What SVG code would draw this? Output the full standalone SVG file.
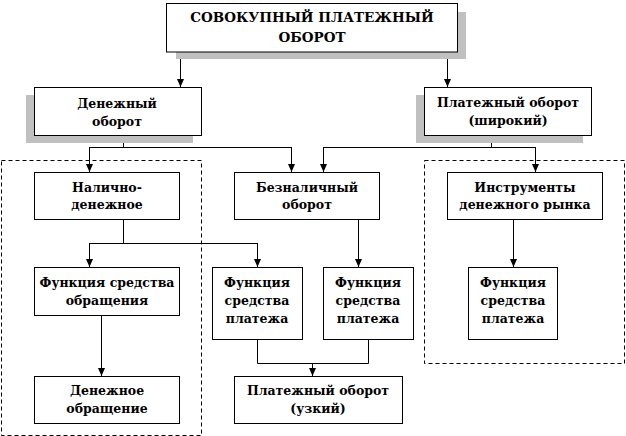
<svg xmlns="http://www.w3.org/2000/svg" width="626" height="436" viewBox="0 0 626 436">
<defs>
<path id="ah" d="M-3.5,-8 L3.5,-8 L0,0 Z" fill="#000"/>
</defs>
<style>
.box{fill:#fff;stroke:#000;stroke-width:1}
.sh{fill:#c0c0c0;stroke:none}
.dash{fill:none;stroke:#000;stroke-width:1;stroke-dasharray:4,3}
.ln{fill:none;stroke:#000;stroke-width:1}
.t{font-family:"DejaVu Serif",serif;font-weight:bold;font-size:12.5px;text-anchor:middle;fill:#000}
.h{font-size:13.5px}
</style>
<rect width="626" height="436" fill="#fff"/>
<g id="groups">
<rect class="dash" x="1.5" y="160.5" width="200" height="275"/>
<rect class="dash" x="424.5" y="160.5" width="200" height="203"/>
</g>
<g id="connectors">
<path class="ln" d="M180.5,52 V87 M447.5,52 V87"/>
<path class="ln" d="M123.5,135 V147.5 M89.5,147.5 H291.5 M89.5,147 V172 M291.5,147 V172"/>
<path class="ln" d="M491.5,135 V147.5 M323.5,147.5 H535.5 M323.5,147 V172 M535.5,147 V172"/>
<path class="ln" d="M123.5,219 V243.5 M89.5,243.5 H257.5 M89.5,243 V267 M257.5,243 V267"/>
<path class="ln" d="M358.5,219 V267 M513.5,219 V267 M101.5,315 V376"/>
<path class="ln" d="M257.5,339 V363.5 H368.5 V339 M312.5,363 V376"/>
<use href="#ah" x="180.5" y="87"/>
<use href="#ah" x="447.5" y="87"/>
<use href="#ah" x="89.5" y="172"/>
<use href="#ah" x="291.5" y="172"/>
<use href="#ah" x="323.5" y="172"/>
<use href="#ah" x="535.5" y="172"/>
<use href="#ah" x="89.5" y="267"/>
<use href="#ah" x="257.5" y="267"/>
<use href="#ah" x="358.5" y="267"/>
<use href="#ah" x="513.5" y="267"/>
<use href="#ah" x="101.5" y="376"/>
<use href="#ah" x="312.5" y="376"/>
</g>
<g id="n-total">
<rect class="sh" x="176" y="12" width="290" height="47"/>
<rect class="box" x="166.5" y="3.5" width="291" height="48.5"/>
<text class="t h" x="312" y="22">СОВОКУПНЫЙ ПЛАТЕЖНЫЙ</text>
<text class="t h" x="312" y="42">ОБОРОТ</text>
</g>
<g id="n-money">
<rect class="sh" x="26" y="95" width="167" height="48"/>
<rect class="box" x="34.5" y="87.5" width="167" height="48"/>
<text class="t" x="117" y="108">Денежный</text>
<text class="t" x="117" y="126">оборот</text>
</g>
<g id="n-paywide">
<rect class="sh" x="416" y="95" width="167" height="48"/>
<rect class="box" x="424.5" y="87.5" width="167" height="48"/>
<text class="t" x="508" y="107">Платежный оборот</text>
<text class="t" x="508" y="125">(широкий)</text>
</g>
<g id="n-cash">
<rect class="box" x="34.5" y="172.5" width="145" height="47"/>
<text class="t" x="107" y="192">Налично-</text>
<text class="t" x="107" y="209">денежное</text>
</g>
<g id="n-noncash">
<rect class="box" x="234.5" y="172.5" width="145" height="47"/>
<text class="t" x="307" y="192">Безналичный</text>
<text class="t" x="307" y="209">оборот</text>
</g>
<g id="n-instr">
<rect class="box" x="447.5" y="172.5" width="155" height="47"/>
<text class="t" x="525" y="192">Инструменты</text>
<text class="t" x="525" y="209">денежного рынка</text>
</g>
<g id="n-circ">
<rect class="box" x="34.5" y="267.5" width="145" height="48"/>
<text class="t" x="107" y="287">Функция средства</text>
<text class="t" x="107" y="305">обращения</text>
</g>
<g id="n-pay1">
<rect class="box" x="212.5" y="267.5" width="90" height="72"/>
<text class="t" x="257" y="287">Функция</text>
<text class="t" x="257" y="305">средства</text>
<text class="t" x="257" y="323">платежа</text>
</g>
<g id="n-pay2">
<rect class="box" x="323.5" y="267.5" width="90" height="72"/>
<text class="t" x="368" y="287">Функция</text>
<text class="t" x="368" y="305">средства</text>
<text class="t" x="368" y="323">платежа</text>
</g>
<g id="n-pay3">
<rect class="box" x="468.5" y="267.5" width="89" height="72"/>
<text class="t" x="513" y="287">Функция</text>
<text class="t" x="513" y="305">средства</text>
<text class="t" x="513" y="323">платежа</text>
</g>
<g id="n-moncirc">
<rect class="box" x="34.5" y="376.5" width="145" height="47"/>
<text class="t" x="107" y="395">Денежное</text>
<text class="t" x="107" y="413">обращение</text>
</g>
<g id="n-paynarrow">
<rect class="box" x="234.5" y="376.5" width="168" height="47"/>
<text class="t" x="318" y="395">Платежный оборот</text>
<text class="t" x="318" y="413">(узкий)</text>
</g>
</svg>
